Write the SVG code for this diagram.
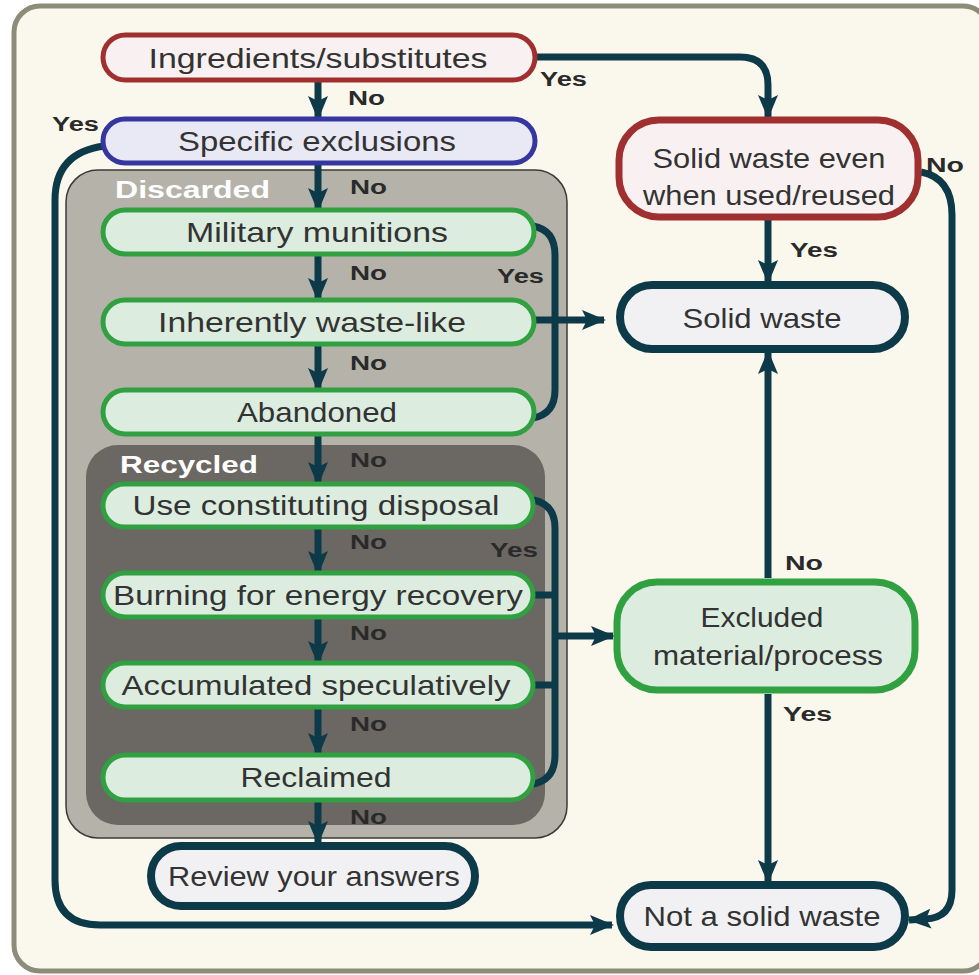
<svg xmlns="http://www.w3.org/2000/svg" width="979" height="975" viewBox="0 0 979 975">
<defs>
<style>
.t{font-family:"Liberation Sans",Arial,sans-serif;font-size:28px;fill:#333;text-anchor:middle}
.l{font-family:"Liberation Sans",Arial,sans-serif;font-size:20px;font-weight:bold;fill:#2a2a2a}
.g{font-family:"Liberation Sans",Arial,sans-serif;font-size:23px;font-weight:bold;fill:#fff}
.c{fill:none;stroke:#0d3a48;stroke-width:7}
.red{fill:#f9f1f1;stroke:#a0302f;stroke-width:5}
.blue{fill:#e9e9f6;stroke:#3636a0;stroke-width:5}
.grn{fill:#dcede0;stroke:#30a040;stroke-width:5}
.dark{fill:#f1f1f3;stroke:#0d3a48;stroke-width:8}
</style>
<marker id="ah" viewBox="0 0 24 20" refX="22" refY="10" markerWidth="24" markerHeight="20" orient="auto" markerUnits="userSpaceOnUse">
<path d="M0,0 L24,10 L0,20 L5,10 z" fill="#0d3a48"/>
</marker>
</defs>
<rect x="14" y="6" width="975" height="965" rx="26" fill="#faf8ec" stroke="#8d8c78" stroke-width="5"/>
<g id="discarded-group">
<rect x="66" y="170" width="501" height="668" rx="32" fill="#b5b3a9" stroke="#3a3a3a" stroke-width="1.5"/>
<text class="g" x="115" y="198" textLength="155" lengthAdjust="spacingAndGlyphs">Discarded</text>
</g>
<g id="recycled-group">
<rect x="86" y="445" width="459" height="380" rx="32" fill="#6b6763"/>
<text class="g" x="120" y="473" textLength="138" lengthAdjust="spacingAndGlyphs">Recycled</text>
</g>
<g id="connectors">
<path class="c" d="M318,80 L318,118" marker-end="url(#ah)"/>
<path class="c" d="M318,163 L318,210" marker-end="url(#ah)"/>
<path class="c" d="M318,254 L318,300" marker-end="url(#ah)"/>
<path class="c" d="M318,344 L318,390" marker-end="url(#ah)"/>
<path class="c" d="M318,434 L318,484" marker-end="url(#ah)"/>
<path class="c" d="M318,527 L318,573" marker-end="url(#ah)"/>
<path class="c" d="M318,617 L318,663" marker-end="url(#ah)"/>
<path class="c" d="M318,707 L318,755" marker-end="url(#ah)"/>
<path class="c" d="M318,800 L318,843" marker-end="url(#ah)"/>
<path class="c" d="M535,57 L740,57 Q768,57 768,85 L768,117" marker-end="url(#ah)"/>
<path class="c" d="M104,146 C75,150 55,165 55,200 L55,880 Q55,925 100,925 L612,925" marker-end="url(#ah)"/>
<path class="c" d="M921,172 Q952,178 952,215 L952,890 Q952,918 925,919 L909,920" marker-end="url(#ah)"/>
<path class="c" d="M768,218 L768,282" marker-end="url(#ah)"/>
<path class="c" d="M768,578 L768,352" marker-end="url(#ah)"/>
<path class="c" d="M768,694 L768,882" marker-end="url(#ah)"/>
<path class="c" d="M533,226 Q555,230 555,255 L555,390 Q555,414 533,418"/>
<path class="c" d="M535,320 L604,320" marker-end="url(#ah)"/>
<path class="c" d="M533,500 Q555,504 555,528 L555,755 Q555,780 533,784"/>
<path class="c" d="M533,595 L555,595"/>
<path class="c" d="M533,685 L555,685"/>
<path class="c" d="M555,636 L613,636" marker-end="url(#ah)"/>
<text class="l" x="540" y="86" textLength="47" lengthAdjust="spacingAndGlyphs">Yes</text>
<text class="l" x="348" y="105" textLength="37" lengthAdjust="spacingAndGlyphs">No</text>
<text class="l" x="52" y="131" textLength="47" lengthAdjust="spacingAndGlyphs">Yes</text>
<text class="l" x="350" y="194" textLength="37" lengthAdjust="spacingAndGlyphs">No</text>
<text class="l" x="350" y="280" textLength="37" lengthAdjust="spacingAndGlyphs">No</text>
<text class="l" x="497" y="283" textLength="47" lengthAdjust="spacingAndGlyphs">Yes</text>
<text class="l" x="350" y="370" textLength="37" lengthAdjust="spacingAndGlyphs">No</text>
<text class="l" x="350" y="467" textLength="37" lengthAdjust="spacingAndGlyphs">No</text>
<text class="l" x="350" y="549" textLength="37" lengthAdjust="spacingAndGlyphs">No</text>
<text class="l" x="490" y="557" textLength="48" lengthAdjust="spacingAndGlyphs">Yes</text>
<text class="l" x="350" y="640" textLength="37" lengthAdjust="spacingAndGlyphs">No</text>
<text class="l" x="350" y="731" textLength="37" lengthAdjust="spacingAndGlyphs">No</text>
<text class="l" x="350" y="824" textLength="37" lengthAdjust="spacingAndGlyphs">No</text>
<text class="l" x="926" y="172" textLength="38" lengthAdjust="spacingAndGlyphs">No</text>
<text class="l" x="790" y="257" textLength="48" lengthAdjust="spacingAndGlyphs">Yes</text>
<text class="l" x="785" y="570" textLength="38" lengthAdjust="spacingAndGlyphs">No</text>
<text class="l" x="783" y="721" textLength="49" lengthAdjust="spacingAndGlyphs">Yes</text>
</g>
<g id="ingredients">
<rect class="red" x="103" y="35" width="432" height="45" rx="22.5"/>
<text class="t" x="318" y="68" textLength="339" lengthAdjust="spacingAndGlyphs">Ingredients/substitutes</text>
</g>
<g id="specific-exclusions">
<rect class="blue" x="103" y="119" width="432" height="44" rx="22"/>
<text class="t" x="317" y="151" textLength="278" lengthAdjust="spacingAndGlyphs">Specific exclusions</text>
</g>
<g id="military-munitions">
<rect class="grn" x="103" y="210" width="431" height="44" rx="22"/>
<text class="t" x="317" y="242" textLength="262" lengthAdjust="spacingAndGlyphs">Military munitions</text>
</g>
<g id="inherently-waste-like">
<rect class="grn" x="103" y="300" width="431" height="44" rx="22"/>
<text class="t" x="312" y="332" textLength="308" lengthAdjust="spacingAndGlyphs">Inherently waste-like</text>
</g>
<g id="abandoned">
<rect class="grn" x="103" y="390" width="431" height="44" rx="22"/>
<text class="t" x="317" y="422" textLength="160" lengthAdjust="spacingAndGlyphs">Abandoned</text>
</g>
<g id="use-constituting-disposal">
<rect class="grn" x="103" y="484" width="430" height="43" rx="21.5"/>
<text class="t" x="316" y="515" textLength="367" lengthAdjust="spacingAndGlyphs">Use constituting disposal</text>
</g>
<g id="burning">
<rect class="grn" x="103" y="573" width="430" height="44" rx="22"/>
<text class="t" x="318" y="605" textLength="410" lengthAdjust="spacingAndGlyphs">Burning for energy recovery</text>
</g>
<g id="accumulated">
<rect class="grn" x="103" y="663" width="430" height="44" rx="22"/>
<text class="t" x="316" y="695" textLength="389" lengthAdjust="spacingAndGlyphs">Accumulated speculatively</text>
</g>
<g id="reclaimed">
<rect class="grn" x="103" y="755" width="430" height="45" rx="22.5"/>
<text class="t" x="316" y="787" textLength="151" lengthAdjust="spacingAndGlyphs">Reclaimed</text>
</g>
<g id="review">
<rect class="dark" x="151" y="846" width="324" height="60" rx="30"/>
<text class="t" x="314" y="886" textLength="292" lengthAdjust="spacingAndGlyphs">Review your answers</text>
</g>
<g id="solid-waste-even">
<rect x="619" y="120" width="299" height="97" rx="40" fill="#f9f1f1" stroke="#a0302f" stroke-width="7"/>
<text class="t" x="769" y="168" textLength="233" lengthAdjust="spacingAndGlyphs">Solid waste even</text>
<text class="t" x="769" y="205" textLength="252" lengthAdjust="spacingAndGlyphs">when used/reused</text>
</g>
<g id="solid-waste">
<rect class="dark" x="620" y="285" width="285" height="64" rx="32"/>
<text class="t" x="762" y="328" textLength="159" lengthAdjust="spacingAndGlyphs">Solid waste</text>
</g>
<g id="excluded">
<rect x="617" y="582" width="298" height="108" rx="40" fill="#dcede0" stroke="#30a040" stroke-width="7"/>
<text class="t" x="762" y="627" textLength="123" lengthAdjust="spacingAndGlyphs">Excluded</text>
<text class="t" x="768" y="665" textLength="230" lengthAdjust="spacingAndGlyphs">material/process</text>
</g>
<g id="not-solid-waste">
<rect class="dark" x="620" y="885" width="285" height="62" rx="31"/>
<text class="t" x="762" y="926" textLength="237" lengthAdjust="spacingAndGlyphs">Not a solid waste</text>
</g>
</svg>
